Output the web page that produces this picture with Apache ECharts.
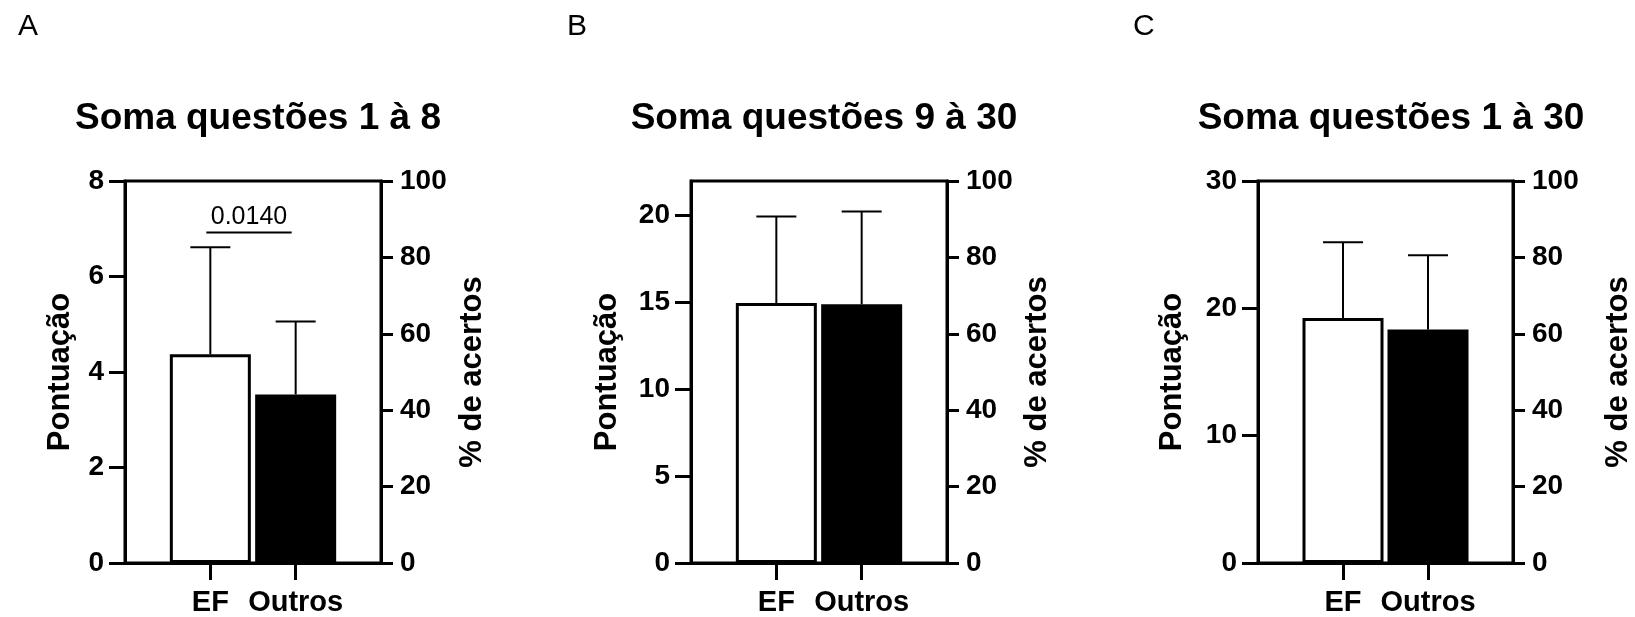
<!DOCTYPE html>
<html>
<head>
<meta charset="utf-8">
<script src="https://cdn.jsdelivr.net/npm/echarts@6/dist/echarts.min.js"></script>
<style>
  html, body { margin: 0; padding: 0; background: #fff; }
  #chart { width: 1635px; height: 617px; }
</style>
</head>
<body>
<div id="chart"></div>
<script>
// dados
const categories = ["EF", "Outros"];
const panelLetters = ["A", "B", "C"];
const panelTitles = ["Soma questões 1 à 8", "Soma questões 9 à 30", "Soma questões 1 à 30"];
const meansA = [4.37, 3.53];
const sdA = [2.24, 1.53];
const meansB = [14.97, 14.9];
const sdB = [4.98, 5.35];
const meansC = [19.25, 18.33];
const sdC = [5.93, 5.83];
const leftMax = [8, 22, 30];
const leftTicksA = [0, 2, 4, 6, 8];
const leftTicksB = [0, 5, 10, 15, 20];
const leftTicksC = [0, 10, 20, 30];
const rightTicks = [0, 20, 40, 60, 80, 100];
const pValueA = "0.0140";
const pLineA = 6.92;

const FONT = "Liberation Sans, Arial, sans-serif";
const means = [meansA, meansB, meansC];
const sds = [sdA, sdB, sdC];
const leftTicks = [leftTicksA, leftTicksB, leftTicksC];

const gridLefts = [125, 691, 1258];
const leftNameGap = [49, 68, 70];
const rightNameGap = [76, 75, 90];
const letterLefts = [13, 562, 1128];

const grids = [], xAxes = [], yAxes = [], series = [], titles = [];

gridLefts.forEach((left, i) => {
  grids.push({
    left: left, top: 181, width: 256, height: 384,
    show: true, borderColor: "#000", borderWidth: 3
  });
  xAxes.push({
    type: "value", gridIndex: i, min: 0, max: 3,
    axisLine: { lineStyle: { color: "#000", width: 3 } },
    axisTick: { customValues: [1, 2], length: 17, lineStyle: { color: "#000", width: 3 } },
    axisLabel: {
      customValues: [1, 2], margin: 25,
      formatter: (v) => categories[v - 1] || "",
      color: "#000", fontSize: 29, fontWeight: "bold", fontFamily: FONT
    },
    splitLine: { show: false }
  });
  yAxes.push({
    type: "value", gridIndex: i, position: "left", min: 0, max: leftMax[i],
    name: "Pontuação", nameLocation: "middle", nameRotate: 90, nameGap: leftNameGap[i],
    nameTextStyle: { color: "#000", fontSize: 31, fontWeight: "bold", fontFamily: FONT },
    axisLine: { show: true, lineStyle: { color: "#000", width: 3 } },
    axisTick: { show: true, customValues: leftTicks[i], length: 16, lineStyle: { color: "#000", width: 3 } },
    axisLabel: {
      customValues: leftTicks[i], margin: 21,
      color: "#000", fontSize: 28, fontWeight: "bold", fontFamily: FONT
    },
    splitLine: { show: false }
  });
  yAxes.push({
    type: "value", gridIndex: i, position: "right", min: 0, max: 100, interval: 20,
    name: "% de acertos", nameLocation: "middle", nameRotate: 90, nameGap: rightNameGap[i],
    nameTextStyle: { color: "#000", fontSize: 31, fontWeight: "bold", fontFamily: FONT },
    axisLine: { show: true, lineStyle: { color: "#000", width: 3 } },
    axisTick: { show: true, customValues: rightTicks, length: 12, lineStyle: { color: "#000", width: 3 } },
    axisLabel: {
      customValues: rightTicks, margin: 19,
      color: "#000", fontSize: 28, fontWeight: "bold", fontFamily: FONT
    },
    splitLine: { show: false }
  });

  series.push({
    type: "bar", xAxisIndex: i, yAxisIndex: 2 * i, barWidth: 81,
    data: categories.map((c, k) => ({
      value: [k + 1, means[i][k]],
      itemStyle: {
        color: k === 0 ? "#fff" : "#000",
        borderColor: "#000", borderWidth: 3
      }
    }))
  });

  series.push({
    type: "custom", xAxisIndex: i, yAxisIndex: 2 * i, z: 5,
    data: categories.map((c, k) => [k + 1, means[i][k], sds[i][k]]),
    renderItem: (params, api) => {
      const base = api.coord([api.value(0), api.value(1)]);
      const top = api.coord([api.value(0), api.value(1) + api.value(2)]);
      const st = { stroke: "#000", lineWidth: 2 };
      return {
        type: "group",
        children: [
          { type: "line", shape: { x1: top[0], y1: base[1], x2: top[0], y2: top[1] }, style: st },
          { type: "line", shape: { x1: top[0] - 20, y1: top[1], x2: top[0] + 20, y2: top[1] }, style: st }
        ]
      };
    }
  });

  titles.push({
    text: panelTitles[i], left: left + 128, top: 95, textAlign: "center",
    textStyle: { color: "#000", fontSize: 37, fontWeight: "bold", fontFamily: FONT }
  });
  titles.push({
    text: panelLetters[i], left: letterLefts[i], top: 7,
    textStyle: { color: "#000", fontSize: 30, fontWeight: "normal", fontFamily: FONT }
  });
});

// linha de significância no painel A
series.push({
  type: "custom", xAxisIndex: 0, yAxisIndex: 0, z: 6,
  data: [[1, 2, pLineA, pValueA]],
  renderItem: (params, api) => {
    const p1 = api.coord([api.value(0), api.value(2)]);
    const p2 = api.coord([api.value(1), api.value(2)]);
    return {
      type: "group",
      children: [
        { type: "line", shape: { x1: p1[0] - 4, y1: p1[1], x2: p2[0] - 4, y2: p2[1] },
          style: { stroke: "#000", lineWidth: 2 } },
        { type: "text", x: (p1[0] + p2[0]) / 2 - 4, y: p1[1] - 3,
          style: { text: pValueA, fill: "#000", font: "25px " + FONT,
                   textAlign: "center", textVerticalAlign: "bottom" } }
      ]
    };
  }
});

const chart = echarts.init(document.getElementById("chart"));
chart.setOption({
  animation: false,
  backgroundColor: "#fff",
  title: titles,
  grid: grids,
  xAxis: xAxes,
  yAxis: yAxes,
  series: series
});
</script>
</body>
</html>
